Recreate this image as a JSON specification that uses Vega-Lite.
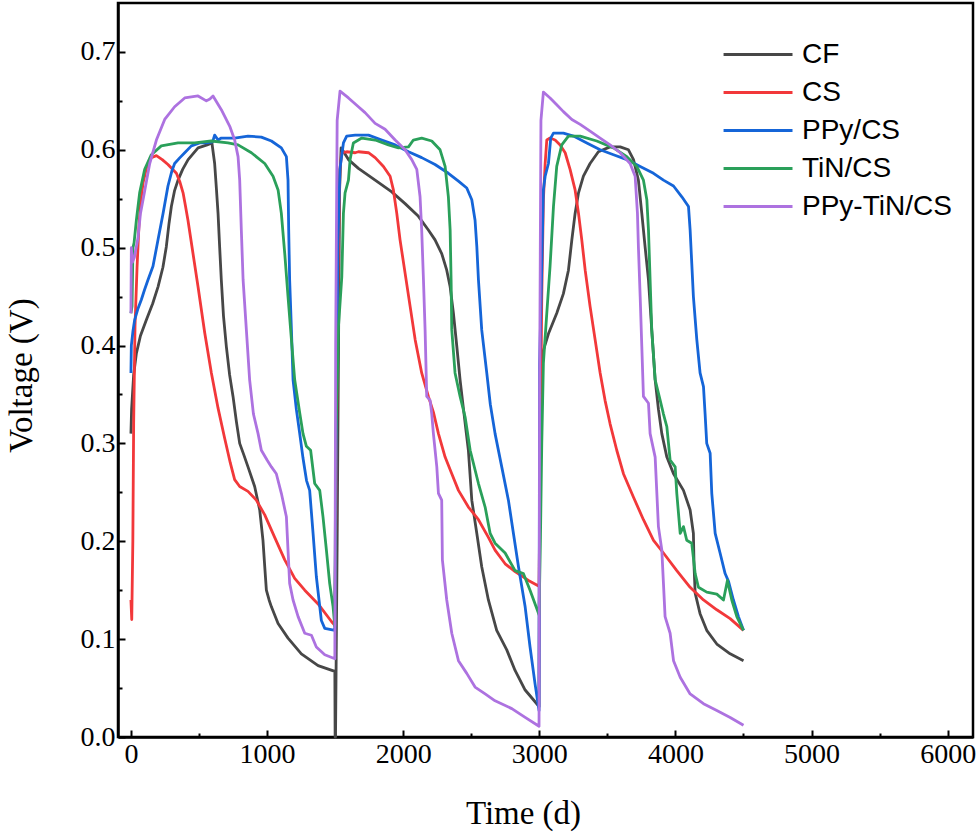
{
"$schema": "https://vega.github.io/schema/vega-lite/v6.json",
"width": 855,
"height": 734,
"autosize": {"type": "none"},
"padding": {"left": 118, "top": 3, "right": 7, "bottom": 97},
"background": "white",
"config": {
  "view": {"stroke": "#000", "strokeWidth": 2.5},
  "axis": {"domainColor": "#000", "domainWidth": 2.5, "tickColor": "#000", "tickWidth": 2, "grid": false, "labelColor": "#000", "titleColor": "#000", "labelFont": "Liberation Serif", "titleFont": "Liberation Serif", "labelFontSize": 28, "titleFontSize": 33, "titleFontWeight": "normal"}
},
"data": {"values": [
{"sample":"CF","time":0,"voltage":0.31},{"sample":"CF","time":5,"voltage":0.335},{"sample":"CF","time":20,"voltage":0.37},{"sample":"CF","time":40,"voltage":0.392},{"sample":"CF","time":70,"voltage":0.41},{"sample":"CF","time":113,"voltage":0.426},{"sample":"CF","time":160,"voltage":0.443},{"sample":"CF","time":199,"voltage":0.46},{"sample":"CF","time":235,"voltage":0.48},{"sample":"CF","time":260,"voltage":0.501},{"sample":"CF","time":280,"voltage":0.525},{"sample":"CF","time":297,"voltage":0.542},{"sample":"CF","time":320,"voltage":0.558},{"sample":"CF","time":346,"voltage":0.569},{"sample":"CF","time":380,"voltage":0.58},{"sample":"CF","time":420,"voltage":0.59},{"sample":"CF","time":493,"voltage":0.602},{"sample":"CF","time":560,"voltage":0.605},{"sample":"CF","time":595,"voltage":0.607},{"sample":"CF","time":615,"voltage":0.586},{"sample":"CF","time":628,"voltage":0.56},{"sample":"CF","time":640,"voltage":0.535},{"sample":"CF","time":652,"voltage":0.5},{"sample":"CF","time":664,"voltage":0.467},{"sample":"CF","time":680,"voltage":0.43},{"sample":"CF","time":701,"voltage":0.399},{"sample":"CF","time":725,"voltage":0.37},{"sample":"CF","time":750,"voltage":0.348},{"sample":"CF","time":775,"voltage":0.322},{"sample":"CF","time":799,"voltage":0.3},{"sample":"CF","time":830,"voltage":0.288},{"sample":"CF","time":860,"voltage":0.276},{"sample":"CF","time":909,"voltage":0.256},{"sample":"CF","time":946,"voltage":0.232},{"sample":"CF","time":970,"voltage":0.201},{"sample":"CF","time":983,"voltage":0.174},{"sample":"CF","time":995,"voltage":0.15},{"sample":"CF","time":1015,"voltage":0.14},{"sample":"CF","time":1032,"voltage":0.133},{"sample":"CF","time":1081,"voltage":0.116},{"sample":"CF","time":1154,"voltage":0.101},{"sample":"CF","time":1252,"voltage":0.085},{"sample":"CF","time":1375,"voltage":0.073},{"sample":"CF","time":1498,"voltage":0.067},{"sample":"CF","time":1500,"voltage":0.0},{"sample":"CF","time":1503,"voltage":0.0},{"sample":"CF","time":1515,"voltage":0.2},{"sample":"CF","time":1525,"voltage":0.4},{"sample":"CF","time":1533,"voltage":0.56},{"sample":"CF","time":1544,"voltage":0.602},{"sample":"CF","time":1598,"voltage":0.59},{"sample":"CF","time":1671,"voltage":0.581},{"sample":"CF","time":1794,"voltage":0.569},{"sample":"CF","time":1916,"voltage":0.557},{"sample":"CF","time":2014,"voltage":0.545},{"sample":"CF","time":2112,"voltage":0.532},{"sample":"CF","time":2185,"voltage":0.518},{"sample":"CF","time":2234,"voltage":0.508},{"sample":"CF","time":2283,"voltage":0.494},{"sample":"CF","time":2320,"voltage":0.477},{"sample":"CF","time":2345,"voltage":0.46},{"sample":"CF","time":2369,"voltage":0.433},{"sample":"CF","time":2394,"voltage":0.399},{"sample":"CF","time":2418,"voltage":0.365},{"sample":"CF","time":2443,"voltage":0.335},{"sample":"CF","time":2460,"voltage":0.315},{"sample":"CF","time":2479,"voltage":0.293},{"sample":"CF","time":2504,"voltage":0.242},{"sample":"CF","time":2541,"voltage":0.208},{"sample":"CF","time":2577,"voltage":0.174},{"sample":"CF","time":2626,"voltage":0.14},{"sample":"CF","time":2687,"voltage":0.109},{"sample":"CF","time":2761,"voltage":0.089},{"sample":"CF","time":2822,"voltage":0.068},{"sample":"CF","time":2896,"voltage":0.048},{"sample":"CF","time":2969,"voltage":0.036},{"sample":"CF","time":2998,"voltage":0.031},{"sample":"CF","time":3001,"voltage":0.2},{"sample":"CF","time":3008,"voltage":0.36},{"sample":"CF","time":3030,"voltage":0.395},{"sample":"CF","time":3067,"voltage":0.412},{"sample":"CF","time":3128,"voltage":0.433},{"sample":"CF","time":3177,"voltage":0.453},{"sample":"CF","time":3214,"voltage":0.477},{"sample":"CF","time":3239,"voltage":0.508},{"sample":"CF","time":3263,"voltage":0.535},{"sample":"CF","time":3288,"voltage":0.556},{"sample":"CF","time":3324,"voltage":0.573},{"sample":"CF","time":3373,"voltage":0.586},{"sample":"CF","time":3434,"voltage":0.598},{"sample":"CF","time":3520,"voltage":0.603},{"sample":"CF","time":3594,"voltage":0.603},{"sample":"CF","time":3655,"voltage":0.6},{"sample":"CF","time":3692,"voltage":0.59},{"sample":"CF","time":3728,"voltage":0.569},{"sample":"CF","time":3753,"voltage":0.535},{"sample":"CF","time":3777,"voltage":0.501},{"sample":"CF","time":3802,"voltage":0.467},{"sample":"CF","time":3826,"voltage":0.416},{"sample":"CF","time":3851,"voltage":0.365},{"sample":"CF","time":3875,"voltage":0.335},{"sample":"CF","time":3900,"voltage":0.31},{"sample":"CF","time":3937,"voltage":0.286},{"sample":"CF","time":3986,"voltage":0.269},{"sample":"CF","time":4059,"voltage":0.252},{"sample":"CF","time":4108,"voltage":0.232},{"sample":"CF","time":4132,"voltage":0.208},{"sample":"CF","time":4137,"voltage":0.174},{"sample":"CF","time":4145,"voltage":0.147},{"sample":"CF","time":4181,"voltage":0.126},{"sample":"CF","time":4230,"voltage":0.109},{"sample":"CF","time":4304,"voltage":0.095},{"sample":"CF","time":4402,"voltage":0.085},{"sample":"CF","time":4500,"voltage":0.078},
{"sample":"CS","time":0,"voltage":0.14},{"sample":"CS","time":6,"voltage":0.12},{"sample":"CS","time":14,"voltage":0.2},{"sample":"CS","time":20,"voltage":0.32},{"sample":"CS","time":30,"voltage":0.42},{"sample":"CS","time":45,"voltage":0.48},{"sample":"CS","time":58,"voltage":0.52},{"sample":"CS","time":70,"voltage":0.545},{"sample":"CS","time":90,"voltage":0.567},{"sample":"CS","time":115,"voltage":0.582},{"sample":"CS","time":150,"voltage":0.592},{"sample":"CS","time":187,"voltage":0.594},{"sample":"CS","time":230,"voltage":0.59},{"sample":"CS","time":272,"voltage":0.585},{"sample":"CS","time":334,"voltage":0.576},{"sample":"CS","time":360,"voltage":0.567},{"sample":"CS","time":383,"voltage":0.556},{"sample":"CS","time":400,"voltage":0.543},{"sample":"CS","time":419,"voltage":0.528},{"sample":"CS","time":456,"voltage":0.494},{"sample":"CS","time":493,"voltage":0.46},{"sample":"CS","time":542,"voltage":0.413},{"sample":"CS","time":591,"voltage":0.372},{"sample":"CS","time":640,"voltage":0.336},{"sample":"CS","time":689,"voltage":0.305},{"sample":"CS","time":730,"voltage":0.28},{"sample":"CS","time":762,"voltage":0.263},{"sample":"CS","time":799,"voltage":0.256},{"sample":"CS","time":860,"voltage":0.251},{"sample":"CS","time":921,"voltage":0.242},{"sample":"CS","time":983,"voltage":0.227},{"sample":"CS","time":1056,"voltage":0.204},{"sample":"CS","time":1130,"voltage":0.181},{"sample":"CS","time":1203,"voltage":0.162},{"sample":"CS","time":1277,"voltage":0.15},{"sample":"CS","time":1375,"voltage":0.136},{"sample":"CS","time":1473,"voltage":0.118},{"sample":"CS","time":1498,"voltage":0.114},{"sample":"CS","time":1510,"voltage":0.3},{"sample":"CS","time":1522,"voltage":0.48},{"sample":"CS","time":1535,"voltage":0.58},{"sample":"CS","time":1549,"voltage":0.597},{"sample":"CS","time":1585,"voltage":0.598},{"sample":"CS","time":1647,"voltage":0.597},{"sample":"CS","time":1671,"voltage":0.598},{"sample":"CS","time":1745,"voltage":0.597},{"sample":"CS","time":1794,"voltage":0.592},{"sample":"CS","time":1855,"voltage":0.583},{"sample":"CS","time":1904,"voltage":0.573},{"sample":"CS","time":1928,"voltage":0.559},{"sample":"CS","time":1953,"voltage":0.535},{"sample":"CS","time":1977,"voltage":0.508},{"sample":"CS","time":2014,"voltage":0.474},{"sample":"CS","time":2051,"voltage":0.44},{"sample":"CS","time":2088,"voltage":0.406},{"sample":"CS","time":2136,"voltage":0.372},{"sample":"CS","time":2185,"voltage":0.348},{"sample":"CS","time":2222,"voltage":0.332},{"sample":"CS","time":2259,"voltage":0.31},{"sample":"CS","time":2308,"voltage":0.286},{"sample":"CS","time":2357,"voltage":0.269},{"sample":"CS","time":2406,"voltage":0.252},{"sample":"CS","time":2479,"voltage":0.235},{"sample":"CS","time":2553,"voltage":0.222},{"sample":"CS","time":2626,"voltage":0.204},{"sample":"CS","time":2675,"voltage":0.191},{"sample":"CS","time":2749,"voltage":0.177},{"sample":"CS","time":2822,"voltage":0.169},{"sample":"CS","time":2920,"voltage":0.16},{"sample":"CS","time":2998,"voltage":0.154},{"sample":"CS","time":3008,"voltage":0.3},{"sample":"CS","time":3018,"voltage":0.45},{"sample":"CS","time":3030,"voltage":0.549},{"sample":"CS","time":3043,"voltage":0.586},{"sample":"CS","time":3055,"voltage":0.61},{"sample":"CS","time":3079,"voltage":0.612},{"sample":"CS","time":3116,"voltage":0.61},{"sample":"CS","time":3153,"voltage":0.605},{"sample":"CS","time":3190,"voltage":0.597},{"sample":"CS","time":3226,"voltage":0.58},{"sample":"CS","time":3263,"voltage":0.559},{"sample":"CS","time":3288,"voltage":0.535},{"sample":"CS","time":3312,"voltage":0.508},{"sample":"CS","time":3337,"voltage":0.477},{"sample":"CS","time":3373,"voltage":0.44},{"sample":"CS","time":3410,"voltage":0.406},{"sample":"CS","time":3447,"voltage":0.372},{"sample":"CS","time":3483,"voltage":0.344},{"sample":"CS","time":3520,"voltage":0.32},{"sample":"CS","time":3569,"voltage":0.293},{"sample":"CS","time":3618,"voltage":0.269},{"sample":"CS","time":3692,"voltage":0.245},{"sample":"CS","time":3765,"voltage":0.222},{"sample":"CS","time":3839,"voltage":0.201},{"sample":"CS","time":3912,"voltage":0.188},{"sample":"CS","time":4010,"voltage":0.17},{"sample":"CS","time":4108,"voltage":0.153},{"sample":"CS","time":4206,"voltage":0.14},{"sample":"CS","time":4304,"voltage":0.13},{"sample":"CS","time":4402,"voltage":0.121},{"sample":"CS","time":4500,"voltage":0.109},
{"sample":"PPy/CS","time":0,"voltage":0.372},{"sample":"PPy/CS","time":3,"voltage":0.4},{"sample":"PPy/CS","time":15,"voltage":0.415},{"sample":"PPy/CS","time":27,"voltage":0.426},{"sample":"PPy/CS","time":50,"voltage":0.437},{"sample":"PPy/CS","time":77,"voltage":0.447},{"sample":"PPy/CS","time":100,"voltage":0.457},{"sample":"PPy/CS","time":125,"voltage":0.467},{"sample":"PPy/CS","time":162,"voltage":0.481},{"sample":"PPy/CS","time":199,"voltage":0.508},{"sample":"PPy/CS","time":236,"voltage":0.535},{"sample":"PPy/CS","time":272,"voltage":0.563},{"sample":"PPy/CS","time":300,"voltage":0.578},{"sample":"PPy/CS","time":321,"voltage":0.586},{"sample":"PPy/CS","time":360,"voltage":0.592},{"sample":"PPy/CS","time":395,"voltage":0.597},{"sample":"PPy/CS","time":444,"voltage":0.604},{"sample":"PPy/CS","time":505,"voltage":0.607},{"sample":"PPy/CS","time":554,"voltage":0.607},{"sample":"PPy/CS","time":600,"voltage":0.608},{"sample":"PPy/CS","time":615,"voltage":0.615},{"sample":"PPy/CS","time":640,"voltage":0.61},{"sample":"PPy/CS","time":664,"voltage":0.612},{"sample":"PPy/CS","time":762,"voltage":0.612},{"sample":"PPy/CS","time":860,"voltage":0.614},{"sample":"PPy/CS","time":958,"voltage":0.613},{"sample":"PPy/CS","time":1032,"voltage":0.609},{"sample":"PPy/CS","time":1105,"voltage":0.602},{"sample":"PPy/CS","time":1142,"voltage":0.593},{"sample":"PPy/CS","time":1154,"voltage":0.569},{"sample":"PPy/CS","time":1159,"voltage":0.518},{"sample":"PPy/CS","time":1166,"voltage":0.467},{"sample":"PPy/CS","time":1179,"voltage":0.416},{"sample":"PPy/CS","time":1191,"voltage":0.365},{"sample":"PPy/CS","time":1215,"voltage":0.335},{"sample":"PPy/CS","time":1240,"voltage":0.31},{"sample":"PPy/CS","time":1264,"voltage":0.285},{"sample":"PPy/CS","time":1290,"voltage":0.262},{"sample":"PPy/CS","time":1313,"voltage":0.252},{"sample":"PPy/CS","time":1338,"voltage":0.208},{"sample":"PPy/CS","time":1362,"voltage":0.164},{"sample":"PPy/CS","time":1399,"voltage":0.119},{"sample":"PPy/CS","time":1424,"voltage":0.111},{"sample":"PPy/CS","time":1498,"voltage":0.109},{"sample":"PPy/CS","time":1508,"voltage":0.3},{"sample":"PPy/CS","time":1520,"voltage":0.5},{"sample":"PPy/CS","time":1535,"voltage":0.58},{"sample":"PPy/CS","time":1561,"voltage":0.607},{"sample":"PPy/CS","time":1585,"voltage":0.614},{"sample":"PPy/CS","time":1647,"voltage":0.615},{"sample":"PPy/CS","time":1745,"voltage":0.615},{"sample":"PPy/CS","time":1843,"voltage":0.61},{"sample":"PPy/CS","time":1941,"voltage":0.605},{"sample":"PPy/CS","time":2039,"voltage":0.598},{"sample":"PPy/CS","time":2136,"voltage":0.592},{"sample":"PPy/CS","time":2234,"voltage":0.585},{"sample":"PPy/CS","time":2332,"voltage":0.576},{"sample":"PPy/CS","time":2406,"voltage":0.568},{"sample":"PPy/CS","time":2467,"voltage":0.561},{"sample":"PPy/CS","time":2504,"voltage":0.549},{"sample":"PPy/CS","time":2528,"voltage":0.528},{"sample":"PPy/CS","time":2541,"voltage":0.501},{"sample":"PPy/CS","time":2553,"voltage":0.467},{"sample":"PPy/CS","time":2577,"voltage":0.416},{"sample":"PPy/CS","time":2614,"voltage":0.372},{"sample":"PPy/CS","time":2640,"voltage":0.34},{"sample":"PPy/CS","time":2675,"voltage":0.31},{"sample":"PPy/CS","time":2724,"voltage":0.276},{"sample":"PPy/CS","time":2773,"voltage":0.242},{"sample":"PPy/CS","time":2810,"voltage":0.208},{"sample":"PPy/CS","time":2847,"voltage":0.174},{"sample":"PPy/CS","time":2896,"voltage":0.133},{"sample":"PPy/CS","time":2932,"voltage":0.092},{"sample":"PPy/CS","time":2969,"voltage":0.054},{"sample":"PPy/CS","time":2998,"voltage":0.027},{"sample":"PPy/CS","time":3002,"voltage":0.38},{"sample":"PPy/CS","time":3015,"voltage":0.46},{"sample":"PPy/CS","time":3030,"voltage":0.559},{"sample":"PPy/CS","time":3043,"voltage":0.573},{"sample":"PPy/CS","time":3067,"voltage":0.586},{"sample":"PPy/CS","time":3084,"voltage":0.612},{"sample":"PPy/CS","time":3104,"voltage":0.617},{"sample":"PPy/CS","time":3177,"voltage":0.617},{"sample":"PPy/CS","time":3251,"voltage":0.614},{"sample":"PPy/CS","time":3349,"voltage":0.607},{"sample":"PPy/CS","time":3447,"voltage":0.6},{"sample":"PPy/CS","time":3545,"voltage":0.595},{"sample":"PPy/CS","time":3643,"voltage":0.59},{"sample":"PPy/CS","time":3741,"voltage":0.583},{"sample":"PPy/CS","time":3839,"voltage":0.576},{"sample":"PPy/CS","time":3912,"voltage":0.569},{"sample":"PPy/CS","time":3986,"voltage":0.563},{"sample":"PPy/CS","time":4047,"voltage":0.552},{"sample":"PPy/CS","time":4096,"voltage":0.542},{"sample":"PPy/CS","time":4108,"voltage":0.518},{"sample":"PPy/CS","time":4120,"voltage":0.484},{"sample":"PPy/CS","time":4132,"voltage":0.45},{"sample":"PPy/CS","time":4157,"voltage":0.406},{"sample":"PPy/CS","time":4181,"voltage":0.372},{"sample":"PPy/CS","time":4206,"voltage":0.358},{"sample":"PPy/CS","time":4218,"voltage":0.33},{"sample":"PPy/CS","time":4230,"voltage":0.3},{"sample":"PPy/CS","time":4255,"voltage":0.29},{"sample":"PPy/CS","time":4267,"voltage":0.249},{"sample":"PPy/CS","time":4292,"voltage":0.208},{"sample":"PPy/CS","time":4328,"voltage":0.188},{"sample":"PPy/CS","time":4365,"voltage":0.167},{"sample":"PPy/CS","time":4390,"voltage":0.159},{"sample":"PPy/CS","time":4426,"voltage":0.14},{"sample":"PPy/CS","time":4463,"voltage":0.123},{"sample":"PPy/CS","time":4500,"voltage":0.109},
{"sample":"TiN/CS","time":0,"voltage":0.433},{"sample":"TiN/CS","time":8,"voltage":0.44},{"sample":"TiN/CS","time":15,"voltage":0.5},{"sample":"TiN/CS","time":23,"voltage":0.505},{"sample":"TiN/CS","time":40,"voltage":0.528},{"sample":"TiN/CS","time":64,"voltage":0.556},{"sample":"TiN/CS","time":101,"voltage":0.58},{"sample":"TiN/CS","time":150,"voltage":0.595},{"sample":"TiN/CS","time":223,"voltage":0.604},{"sample":"TiN/CS","time":346,"voltage":0.607},{"sample":"TiN/CS","time":468,"voltage":0.607},{"sample":"TiN/CS","time":591,"voltage":0.609},{"sample":"TiN/CS","time":713,"voltage":0.607},{"sample":"TiN/CS","time":787,"voltage":0.605},{"sample":"TiN/CS","time":885,"voltage":0.597},{"sample":"TiN/CS","time":983,"voltage":0.586},{"sample":"TiN/CS","time":1044,"voltage":0.573},{"sample":"TiN/CS","time":1081,"voltage":0.559},{"sample":"TiN/CS","time":1105,"voltage":0.535},{"sample":"TiN/CS","time":1130,"voltage":0.494},{"sample":"TiN/CS","time":1154,"voltage":0.45},{"sample":"TiN/CS","time":1179,"voltage":0.406},{"sample":"TiN/CS","time":1203,"voltage":0.365},{"sample":"TiN/CS","time":1240,"voltage":0.331},{"sample":"TiN/CS","time":1264,"voltage":0.31},{"sample":"TiN/CS","time":1289,"voltage":0.297},{"sample":"TiN/CS","time":1320,"voltage":0.293},{"sample":"TiN/CS","time":1350,"voltage":0.259},{"sample":"TiN/CS","time":1387,"voltage":0.252},{"sample":"TiN/CS","time":1411,"voltage":0.225},{"sample":"TiN/CS","time":1436,"voltage":0.191},{"sample":"TiN/CS","time":1460,"voltage":0.157},{"sample":"TiN/CS","time":1485,"voltage":0.133},{"sample":"TiN/CS","time":1498,"voltage":0.113},{"sample":"TiN/CS","time":1505,"voltage":0.3},{"sample":"TiN/CS","time":1525,"voltage":0.42},{"sample":"TiN/CS","time":1549,"voltage":0.47},{"sample":"TiN/CS","time":1561,"voltage":0.535},{"sample":"TiN/CS","time":1573,"voltage":0.556},{"sample":"TiN/CS","time":1598,"voltage":0.569},{"sample":"TiN/CS","time":1610,"voltage":0.59},{"sample":"TiN/CS","time":1634,"voltage":0.607},{"sample":"TiN/CS","time":1696,"voltage":0.612},{"sample":"TiN/CS","time":1794,"voltage":0.61},{"sample":"TiN/CS","time":1892,"voltage":0.605},{"sample":"TiN/CS","time":1965,"voltage":0.602},{"sample":"TiN/CS","time":2039,"voltage":0.603},{"sample":"TiN/CS","time":2075,"voltage":0.61},{"sample":"TiN/CS","time":2136,"voltage":0.612},{"sample":"TiN/CS","time":2210,"voltage":0.609},{"sample":"TiN/CS","time":2271,"voltage":0.6},{"sample":"TiN/CS","time":2308,"voltage":0.583},{"sample":"TiN/CS","time":2332,"voltage":0.552},{"sample":"TiN/CS","time":2345,"voltage":0.518},{"sample":"TiN/CS","time":2352,"voltage":0.467},{"sample":"TiN/CS","time":2357,"voltage":0.416},{"sample":"TiN/CS","time":2381,"voltage":0.372},{"sample":"TiN/CS","time":2418,"voltage":0.348},{"sample":"TiN/CS","time":2455,"voltage":0.327},{"sample":"TiN/CS","time":2492,"voltage":0.293},{"sample":"TiN/CS","time":2553,"voltage":0.259},{"sample":"TiN/CS","time":2602,"voltage":0.235},{"sample":"TiN/CS","time":2639,"voltage":0.208},{"sample":"TiN/CS","time":2675,"voltage":0.198},{"sample":"TiN/CS","time":2749,"voltage":0.188},{"sample":"TiN/CS","time":2822,"voltage":0.17},{"sample":"TiN/CS","time":2883,"voltage":0.167},{"sample":"TiN/CS","time":2932,"voltage":0.15},{"sample":"TiN/CS","time":2998,"voltage":0.125},{"sample":"TiN/CS","time":3008,"voltage":0.2},{"sample":"TiN/CS","time":3018,"voltage":0.3},{"sample":"TiN/CS","time":3030,"voltage":0.382},{"sample":"TiN/CS","time":3055,"voltage":0.433},{"sample":"TiN/CS","time":3079,"voltage":0.481},{"sample":"TiN/CS","time":3104,"voltage":0.542},{"sample":"TiN/CS","time":3128,"voltage":0.583},{"sample":"TiN/CS","time":3165,"voltage":0.605},{"sample":"TiN/CS","time":3214,"voltage":0.614},{"sample":"TiN/CS","time":3300,"voltage":0.614},{"sample":"TiN/CS","time":3422,"voltage":0.609},{"sample":"TiN/CS","time":3545,"voltage":0.602},{"sample":"TiN/CS","time":3643,"voltage":0.593},{"sample":"TiN/CS","time":3716,"voltage":0.583},{"sample":"TiN/CS","time":3765,"voltage":0.569},{"sample":"TiN/CS","time":3790,"voltage":0.549},{"sample":"TiN/CS","time":3802,"voltage":0.518},{"sample":"TiN/CS","time":3814,"voltage":0.467},{"sample":"TiN/CS","time":3826,"voltage":0.416},{"sample":"TiN/CS","time":3851,"voltage":0.365},{"sample":"TiN/CS","time":3888,"voltage":0.344},{"sample":"TiN/CS","time":3912,"voltage":0.33},{"sample":"TiN/CS","time":3937,"voltage":0.317},{"sample":"TiN/CS","time":3961,"voltage":0.283},{"sample":"TiN/CS","time":3998,"voltage":0.276},{"sample":"TiN/CS","time":4010,"voltage":0.249},{"sample":"TiN/CS","time":4035,"voltage":0.208},{"sample":"TiN/CS","time":4059,"voltage":0.215},{"sample":"TiN/CS","time":4083,"voltage":0.201},{"sample":"TiN/CS","time":4120,"voltage":0.198},{"sample":"TiN/CS","time":4145,"voltage":0.167},{"sample":"TiN/CS","time":4169,"voltage":0.153},{"sample":"TiN/CS","time":4230,"voltage":0.148},{"sample":"TiN/CS","time":4304,"voltage":0.146},{"sample":"TiN/CS","time":4353,"voltage":0.14},{"sample":"TiN/CS","time":4382,"voltage":0.16},{"sample":"TiN/CS","time":4414,"voltage":0.14},{"sample":"TiN/CS","time":4451,"voltage":0.123},{"sample":"TiN/CS","time":4500,"voltage":0.109},
{"sample":"PPy-TiN/CS","time":0,"voltage":0.433},{"sample":"PPy-TiN/CS","time":3,"voltage":0.5},{"sample":"PPy-TiN/CS","time":10,"voltage":0.485},{"sample":"PPy-TiN/CS","time":25,"voltage":0.49},{"sample":"PPy-TiN/CS","time":52,"voltage":0.51},{"sample":"PPy-TiN/CS","time":70,"voltage":0.535},{"sample":"PPy-TiN/CS","time":89,"voltage":0.549},{"sample":"PPy-TiN/CS","time":138,"voltage":0.586},{"sample":"PPy-TiN/CS","time":187,"voltage":0.61},{"sample":"PPy-TiN/CS","time":248,"voltage":0.631},{"sample":"PPy-TiN/CS","time":321,"voltage":0.644},{"sample":"PPy-TiN/CS","time":395,"voltage":0.653},{"sample":"PPy-TiN/CS","time":493,"voltage":0.655},{"sample":"PPy-TiN/CS","time":554,"voltage":0.65},{"sample":"PPy-TiN/CS","time":580,"voltage":0.652},{"sample":"PPy-TiN/CS","time":603,"voltage":0.655},{"sample":"PPy-TiN/CS","time":664,"voltage":0.641},{"sample":"PPy-TiN/CS","time":726,"voltage":0.624},{"sample":"PPy-TiN/CS","time":762,"voltage":0.61},{"sample":"PPy-TiN/CS","time":787,"voltage":0.593},{"sample":"PPy-TiN/CS","time":799,"voltage":0.569},{"sample":"PPy-TiN/CS","time":811,"voltage":0.518},{"sample":"PPy-TiN/CS","time":824,"voltage":0.467},{"sample":"PPy-TiN/CS","time":848,"voltage":0.416},{"sample":"PPy-TiN/CS","time":872,"voltage":0.365},{"sample":"PPy-TiN/CS","time":900,"voltage":0.33},{"sample":"PPy-TiN/CS","time":934,"voltage":0.31},{"sample":"PPy-TiN/CS","time":958,"voltage":0.293},{"sample":"PPy-TiN/CS","time":1000,"voltage":0.283},{"sample":"PPy-TiN/CS","time":1032,"voltage":0.276},{"sample":"PPy-TiN/CS","time":1068,"voltage":0.269},{"sample":"PPy-TiN/CS","time":1105,"voltage":0.249},{"sample":"PPy-TiN/CS","time":1142,"voltage":0.225},{"sample":"PPy-TiN/CS","time":1154,"voltage":0.191},{"sample":"PPy-TiN/CS","time":1166,"voltage":0.157},{"sample":"PPy-TiN/CS","time":1191,"voltage":0.14},{"sample":"PPy-TiN/CS","time":1228,"voltage":0.123},{"sample":"PPy-TiN/CS","time":1277,"voltage":0.106},{"sample":"PPy-TiN/CS","time":1326,"voltage":0.104},{"sample":"PPy-TiN/CS","time":1362,"voltage":0.092},{"sample":"PPy-TiN/CS","time":1424,"voltage":0.084},{"sample":"PPy-TiN/CS","time":1498,"voltage":0.08},{"sample":"PPy-TiN/CS","time":1504,"voltage":0.4},{"sample":"PPy-TiN/CS","time":1515,"voltage":0.63},{"sample":"PPy-TiN/CS","time":1536,"voltage":0.66},{"sample":"PPy-TiN/CS","time":1598,"voltage":0.653},{"sample":"PPy-TiN/CS","time":1671,"voltage":0.644},{"sample":"PPy-TiN/CS","time":1720,"voltage":0.638},{"sample":"PPy-TiN/CS","time":1794,"voltage":0.627},{"sample":"PPy-TiN/CS","time":1867,"voltage":0.621},{"sample":"PPy-TiN/CS","time":1941,"voltage":0.61},{"sample":"PPy-TiN/CS","time":2014,"voltage":0.6},{"sample":"PPy-TiN/CS","time":2063,"voltage":0.59},{"sample":"PPy-TiN/CS","time":2100,"voltage":0.58},{"sample":"PPy-TiN/CS","time":2124,"voltage":0.552},{"sample":"PPy-TiN/CS","time":2136,"voltage":0.518},{"sample":"PPy-TiN/CS","time":2149,"voltage":0.467},{"sample":"PPy-TiN/CS","time":2161,"voltage":0.416},{"sample":"PPy-TiN/CS","time":2173,"voltage":0.348},{"sample":"PPy-TiN/CS","time":2198,"voltage":0.344},{"sample":"PPy-TiN/CS","time":2210,"voltage":0.33},{"sample":"PPy-TiN/CS","time":2222,"voltage":0.31},{"sample":"PPy-TiN/CS","time":2247,"voltage":0.276},{"sample":"PPy-TiN/CS","time":2259,"voltage":0.249},{"sample":"PPy-TiN/CS","time":2283,"voltage":0.242},{"sample":"PPy-TiN/CS","time":2288,"voltage":0.181},{"sample":"PPy-TiN/CS","time":2320,"voltage":0.14},{"sample":"PPy-TiN/CS","time":2357,"voltage":0.106},{"sample":"PPy-TiN/CS","time":2406,"voltage":0.078},{"sample":"PPy-TiN/CS","time":2467,"voltage":0.065},{"sample":"PPy-TiN/CS","time":2528,"voltage":0.051},{"sample":"PPy-TiN/CS","time":2602,"voltage":0.044},{"sample":"PPy-TiN/CS","time":2675,"voltage":0.037},{"sample":"PPy-TiN/CS","time":2798,"voltage":0.029},{"sample":"PPy-TiN/CS","time":2896,"voltage":0.02},{"sample":"PPy-TiN/CS","time":2998,"voltage":0.011},{"sample":"PPy-TiN/CS","time":3002,"voltage":0.35},{"sample":"PPy-TiN/CS","time":3012,"voltage":0.63},{"sample":"PPy-TiN/CS","time":3030,"voltage":0.659},{"sample":"PPy-TiN/CS","time":3079,"voltage":0.653},{"sample":"PPy-TiN/CS","time":3128,"voltage":0.646},{"sample":"PPy-TiN/CS","time":3177,"voltage":0.639},{"sample":"PPy-TiN/CS","time":3239,"voltage":0.631},{"sample":"PPy-TiN/CS","time":3300,"voltage":0.626},{"sample":"PPy-TiN/CS","time":3373,"voltage":0.619},{"sample":"PPy-TiN/CS","time":3447,"voltage":0.612},{"sample":"PPy-TiN/CS","time":3520,"voltage":0.605},{"sample":"PPy-TiN/CS","time":3594,"voltage":0.597},{"sample":"PPy-TiN/CS","time":3667,"voltage":0.586},{"sample":"PPy-TiN/CS","time":3704,"voltage":0.573},{"sample":"PPy-TiN/CS","time":3721,"voltage":0.535},{"sample":"PPy-TiN/CS","time":3728,"voltage":0.501},{"sample":"PPy-TiN/CS","time":3741,"voltage":0.45},{"sample":"PPy-TiN/CS","time":3753,"voltage":0.399},{"sample":"PPy-TiN/CS","time":3765,"voltage":0.348},{"sample":"PPy-TiN/CS","time":3802,"voltage":0.341},{"sample":"PPy-TiN/CS","time":3814,"voltage":0.31},{"sample":"PPy-TiN/CS","time":3851,"voltage":0.286},{"sample":"PPy-TiN/CS","time":3875,"voltage":0.215},{"sample":"PPy-TiN/CS","time":3900,"voltage":0.191},{"sample":"PPy-TiN/CS","time":3912,"voltage":0.157},{"sample":"PPy-TiN/CS","time":3924,"voltage":0.123},{"sample":"PPy-TiN/CS","time":3961,"voltage":0.106},{"sample":"PPy-TiN/CS","time":3986,"voltage":0.078},{"sample":"PPy-TiN/CS","time":4035,"voltage":0.061},{"sample":"PPy-TiN/CS","time":4108,"voltage":0.044},{"sample":"PPy-TiN/CS","time":4206,"voltage":0.034},{"sample":"PPy-TiN/CS","time":4304,"voltage":0.027},{"sample":"PPy-TiN/CS","time":4402,"voltage":0.02},{"sample":"PPy-TiN/CS","time":4500,"voltage":0.012}
]},
"mark": {"type": "line", "strokeWidth": 2.8, "strokeJoin": "round"},
"encoding": {
  "x": {"field": "time", "type": "quantitative",
    "scale": {"domain": [-95, 6186], "nice": false, "zero": false},
    "axis": {"title": "Time (d)", "values": [0,500,1000,1500,2000,2500,3000,3500,4000,4500,5000,5500,6000],
      "labelExpr": "datum.value % 1000 === 0 ? datum.label : ''", "format": "d",
      "tickSize": {"condition": {"test": "datum.value % 1000 === 0", "value": -7}, "value": -4},
      "labelPadding": 10, "labelFlush": false,
      "titleX": 405, "titleY": 86, "titleBaseline": "alphabetic", "titleAlign": "center"}},
  "y": {"field": "voltage", "type": "quantitative",
    "scale": {"domain": [0, 0.75], "nice": false},
    "axis": {"title": "Voltage (V)", "values": [0,0.05,0.1,0.15,0.2,0.25,0.3,0.35,0.4,0.45,0.5,0.55,0.6,0.65,0.7],
      "labelExpr": "round(datum.value*100) % 10 === 0 ? datum.label : ''", "format": ".1f",
      "tickSize": {"condition": {"test": "round(datum.value*100) % 10 === 0", "value": -7}, "value": -4},
      "labelPadding": 10, "labelFlush": false,
      "titleX": -87, "titleY": 372, "titleBaseline": "alphabetic", "titleAlign": "center", "titleAngle": 270}},
  "color": {"field": "sample", "type": "nominal",
    "scale": {"domain": ["CF","CS","PPy/CS","TiN/CS","PPy-TiN/CS"], "range": ["#474747","#f2383a","#1565d8","#2aa05a","#ad72e0"]},
    "legend": {"title": null, "orient": "none", "legendX": 637, "legendY": 32, "padding": 0,
      "symbolType": "M-2.83,0H1", "symbolSize": 1296, "symbolStrokeWidth": 3,
      "labelFont": "Liberation Sans", "labelFontSize": 28, "labelColor": "#000", "labelOffset": 8, "rowPadding": 4, "labelLimit": 300}}
}
}
